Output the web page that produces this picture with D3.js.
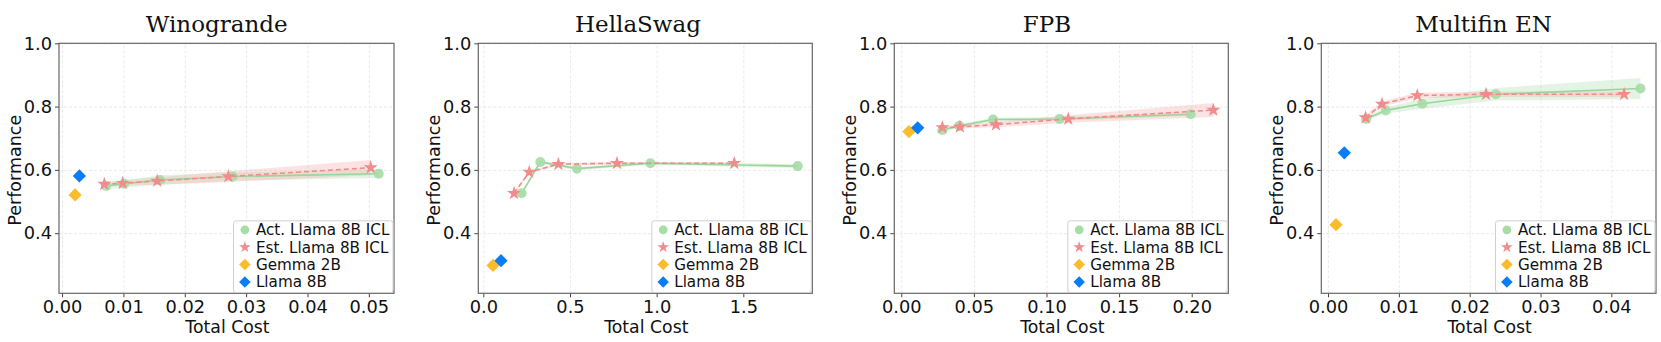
<!DOCTYPE html>
<html><head><meta charset="utf-8">
<script src="https://cdn.jsdelivr.net/npm/d3@7"></script>
<style>body{margin:0;background:#fff}svg{display:block}</style>
</head><body><svg id="c" width="1661" height="342"></svg>
<script>
const datasets = ["Winogrande", "HellaSwag", "FPB", "Multifin EN"];
const xTicks = [[0, 0.01, 0.02, 0.03, 0.04, 0.05], [0, 0.5, 1.0, 1.5], [0, 0.05, 0.10, 0.15, 0.20], [0, 0.01, 0.02, 0.03, 0.04]];
const xTickFormat = [".2f", ".1f", ".2f", ".2f"];
const xDomains = [[-0.0005, 0.0541], [-0.029, 1.898], [-0.0048, 0.2252], [-0.00095, 0.0463]];
const yTicks = [0.4, 0.6, 0.8, 1.0];
const yDomain = [0.21, 1.0];

const actCost = [[0.00717, 0.0101, 0.01596, 0.0278, 0.0516], [0.221, 0.329, 0.540, 0.964, 1.814], [0.0283, 0.040, 0.0632, 0.109, 0.1993], [0.0054, 0.00815, 0.0133, 0.0237, 0.0441]];
const actPerf = [[0.549, 0.556, 0.568, 0.579, 0.588], [0.526, 0.625, 0.604, 0.621, 0.612], [0.726, 0.739, 0.759, 0.761, 0.776], [0.761, 0.788, 0.809, 0.839, 0.857]];
const actLo = [[0.539, 0.544, 0.553, 0.566, 0.574], [0.521, 0.620, 0.599, 0.616, 0.606], [0.721, 0.733, 0.753, 0.755, 0.770], [0.756, 0.778, 0.793, 0.819, 0.824]];
const actHi = [[0.559, 0.568, 0.583, 0.592, 0.602], [0.531, 0.630, 0.609, 0.626, 0.618], [0.731, 0.745, 0.765, 0.767, 0.782], [0.766, 0.798, 0.825, 0.859, 0.890]];
const estCost = [[0.00689, 0.00988, 0.0155, 0.0271, 0.0503], [0.177, 0.265, 0.433, 0.771, 1.448], [0.0283, 0.0404, 0.0652, 0.115, 0.2149], [0.0053, 0.00762, 0.0126, 0.0223, 0.0418]];
const estPerf = [[0.555, 0.558, 0.565, 0.579, 0.607], [0.526, 0.593, 0.618, 0.621, 0.621], [0.734, 0.736, 0.743, 0.761, 0.789], [0.765, 0.808, 0.835, 0.839, 0.839]];
const estLo = [[0.549, 0.550, 0.553, 0.562, 0.583], [0.522, 0.589, 0.614, 0.617, 0.617], [0.730, 0.731, 0.735, 0.749, 0.767], [0.757, 0.800, 0.826, 0.830, 0.830]];
const estHi = [[0.561, 0.566, 0.577, 0.596, 0.631], [0.530, 0.597, 0.622, 0.625, 0.625], [0.738, 0.741, 0.751, 0.773, 0.811], [0.773, 0.816, 0.844, 0.848, 0.848]];
const gemmaCost = [0.00212, 0.056, 0.0053, 0.00113];
const gemmaPerf = [0.521, 0.298, 0.721, 0.427];
const llamaCost = [0.00282, 0.102, 0.0113, 0.0023];
const llamaPerf = [0.581, 0.313, 0.733, 0.654];
const legendLabels = ["Act. Llama 8B ICL", "Est. Llama 8B ICL", "Gemma 2B", "Llama 8B"];

// layout
const axLeft = [59, 478.3, 894.3, 1321.3];
const axRight = [394, 812.3, 1228.3, 1656];
const titleX = [216.7, 638, 1047, 1483.5];
const axTop = 43.3, axBottom = 293.3;
const C = {green: "#a6dca6", greenLine: "#99d699", red: "#f28b8b", gemma: "#fbbc2c", llama: "#0a7cf4"};

const svg = d3.select("#c");
const sans = "DejaVu Sans, sans-serif";

const star = d3.symbol().type(d3.symbolStar);
const circ = d3.symbol().type(d3.symbolCircle);
const sq = d3.symbol().type(d3.symbolSquare);

datasets.forEach((name, i) => {
  const x = d3.scaleLinear().domain(xDomains[i]).range([axLeft[i], axRight[i]]);
  const y = d3.scaleLinear().domain(yDomain).range([axBottom, axTop]);
  const g = svg.append("g");
  const W = axRight[i] - axLeft[i];

  // grid
  g.append("g").attr("transform", `translate(0,${axBottom})`)
    .call(d3.axisBottom(x).tickValues(xTicks[i]).tickSize(-(axBottom - axTop)).tickFormat(""))
    .call(s => { s.select(".domain").remove(); s.selectAll("line").attr("stroke", "#e4e4e4").attr("stroke-dasharray", "3,2").attr("stroke-width", 0.8); });
  g.append("g").attr("transform", `translate(${axLeft[i]},0)`)
    .call(d3.axisLeft(y).tickValues(yTicks).tickSize(-W).tickFormat(""))
    .call(s => { s.select(".domain").remove(); s.selectAll("line").attr("stroke", "#e4e4e4").attr("stroke-dasharray", "3,2").attr("stroke-width", 0.8); });

  // bands
  const act = actCost[i].map((c, k) => ({c, p: actPerf[i][k], lo: actLo[i][k], hi: actHi[i][k]}));
  const est = estCost[i].map((c, k) => ({c, p: estPerf[i][k], lo: estLo[i][k], hi: estHi[i][k]}));
  const area = d3.area().x(d => x(d.c)).y0(d => y(d.lo)).y1(d => y(d.hi));
  const line = d3.line().x(d => x(d.c)).y(d => y(d.p));
  g.append("path").attr("d", area(act)).attr("fill", C.green).attr("opacity", 0.3);
  g.append("path").attr("d", area(est)).attr("fill", "#f4a3a3").attr("opacity", 0.3);
  g.append("path").attr("d", line(act)).attr("fill", "none").attr("stroke", C.greenLine).attr("stroke-width", 1.6);
  g.selectAll(".ac").data(act).join("path").attr("d", circ.size(80)())
    .attr("transform", d => `translate(${x(d.c)},${y(d.p)})`).attr("fill", C.green).attr("opacity", 0.9);
  g.append("path").attr("d", line(est)).attr("fill", "none").attr("stroke", C.red).attr("stroke-width", 1.6).attr("stroke-dasharray", "5,3");
  g.selectAll(".es").data(est).join("path").attr("d", star.size(62)())
    .attr("transform", d => `translate(${x(d.c)},${y(d.p)})`).attr("fill", C.red);

  // baselines
  g.append("path").attr("d", sq.size(88)()).attr("transform", `translate(${x(gemmaCost[i])},${y(gemmaPerf[i])}) rotate(45)`).attr("fill", C.gemma);
  g.append("path").attr("d", sq.size(88)()).attr("transform", `translate(${x(llamaCost[i])},${y(llamaPerf[i])}) rotate(45)`).attr("fill", C.llama);

  // axes
  const xa = g.append("g").attr("transform", `translate(0,${axBottom})`)
    .call(d3.axisBottom(x).tickValues(xTicks[i]).tickSize(4).tickPadding(3).tickFormat(d3.format(xTickFormat[i])));
  const ya = g.append("g").attr("transform", `translate(${axLeft[i]},0)`)
    .call(d3.axisLeft(y).tickValues(yTicks).tickSize(4).tickPadding(3).tickFormat(d3.format(".1f")));
  [xa, ya].forEach(a => {
    a.select(".domain").remove();
    a.selectAll("line").attr("stroke", "#444");
    a.selectAll("text").attr("font-family", sans).attr("font-size", 17.8).attr("fill", "#111");
  });
  g.append("rect").attr("x", axLeft[i]).attr("y", axTop).attr("width", W).attr("height", axBottom - axTop)
    .attr("fill", "none").attr("stroke", "#666").attr("stroke-width", 1.2);

  g.append("text").attr("x", (axLeft[i] + axRight[i]) / 2 + 1).attr("y", 333).attr("text-anchor", "middle")
    .attr("font-family", sans).attr("font-size", 17.3).attr("fill", "#111").text("Total Cost");
  g.append("text").attr("transform", `translate(${axLeft[i] - 38},${(axTop + axBottom) / 2 + 2}) rotate(-90)`)
    .attr("text-anchor", "middle").attr("font-family", sans).attr("font-size", 17.5).attr("fill", "#111").text("Performance");
  g.append("text").attr("x", titleX[i]).attr("y", 31.5).attr("text-anchor", "middle")
    .attr("font-family", "DejaVu Serif, serif").attr("font-size", 23).attr("fill", "#111").text(name);

  // legend
  const lx = axRight[i] - 160.5, ly = axBottom - 72.5;
  const lg = g.append("g").attr("transform", `translate(${lx},${ly})`);
  lg.append("rect").attr("width", 159.5).attr("height", 71.7).attr("rx", 2.5)
    .attr("fill", "#fff").attr("fill-opacity", 0.85).attr("stroke", "#d0d0d0");
  const syms = [
    {d: circ.size(60)(), fill: C.green, rot: 0},
    {d: star.size(42)(), fill: C.red, rot: 0},
    {d: sq.size(66)(), fill: C.gemma, rot: 45},
    {d: sq.size(66)(), fill: C.llama, rot: 45}];
  legendLabels.forEach((lab, k) => {
    const cy = 9 + k * 17.4;
    lg.append("path").attr("d", syms[k].d).attr("fill", syms[k].fill)
      .attr("transform", `translate(11.4,${cy}) rotate(${syms[k].rot})`);
    lg.append("text").attr("x", 22.4).attr("y", cy).attr("dy", "0.35em")
      .attr("font-family", sans).attr("font-size", 15.2).attr("fill", "#111").text(lab);
  });
});
</script></body></html>
